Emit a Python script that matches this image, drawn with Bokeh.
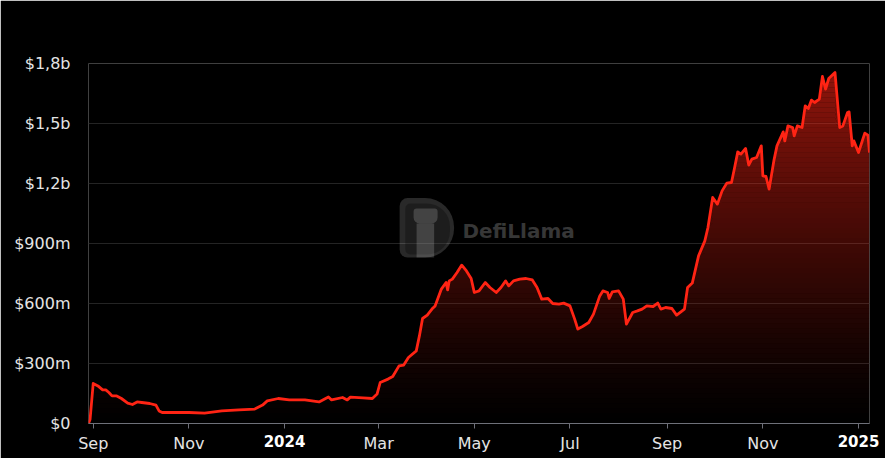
import numpy as np
import pandas as pd
from bokeh.plotting import figure
from bokeh.models import FixedTicker, Label, BoxAnnotation, Range1d, DatetimeAxis
from bokeh.embed import file_html
from bokeh.resources import INLINE

# ---------------- data ----------------
START_DATE = "2023-09-01"
day_offsets = [-3, -2, 0, 3, 6, 8, 10, 12, 15, 18, 22, 25, 28, 31, 36, 40, 42, 44, 50, 61,
               71, 82, 93, 103, 108, 111, 118, 125, 135, 144, 150, 152, 159, 162, 164, 172,
               178, 181, 183, 188, 191, 195, 198, 201, 206, 208, 210, 213, 216, 218, 220,
               222, 225, 226, 227, 229, 232, 235, 238, 241, 243, 246, 250, 253, 257, 260,
               263, 265, 268, 272, 276, 280, 283, 286, 290, 293, 297, 300, 304, 307, 309,
               312, 316, 319, 323, 325, 328, 329, 331, 335, 338, 340, 344, 347, 350, 353,
               357, 360, 362, 365, 369, 372, 377, 379, 382, 386, 390, 392, 395, 398, 401,
               404, 407, 409, 411, 413, 416, 418, 420, 423, 426, 427, 429, 431, 434, 436,
               440, 441, 443, 446, 447, 449, 452, 454, 456, 458, 460, 463, 465, 467, 469,
               473, 476, 478, 481, 482, 484, 485, 488, 492, 494, 495]
tvl_musd = [0, 20, 200, 188, 168, 168, 155, 138, 138, 125, 102, 95, 108, 105, 100, 92, 63, 55, 55, 55,
            52, 63, 68, 72, 92, 113, 125, 118, 118, 108, 133, 118, 130, 118, 132, 128,
            125, 147, 205, 222, 235, 288, 292, 330, 363, 438, 525, 542, 572, 588, 630,
            672, 705, 668, 713, 722, 755, 792, 763, 725, 655, 663, 705, 680, 655, 680,
            713, 688, 713, 722, 725, 718, 680, 622, 625, 600, 597, 602, 588, 522, 472,
            485, 505, 547, 638, 663, 655, 625, 658, 663, 622, 497, 555, 563, 572, 588,
            585, 602, 572, 580, 575, 542, 572, 680, 702, 838, 913, 980, 1130, 1097, 1163,
            1202, 1205, 1280, 1358, 1347, 1375, 1292, 1322, 1330, 1388, 1238, 1235, 1172, 1313, 1388,
            1458, 1413, 1488, 1480, 1438, 1488, 1480, 1588, 1575, 1617, 1605, 1622, 1735, 1672, 1725,
            1755, 1480, 1488, 1555, 1558, 1388, 1413, 1355, 1452, 1442, 1355]

y_ticks = [0, 300, 600, 900, 1200, 1500, 1800]
y_tick_labels = ["$0", "$300m", "$600m", "$900m", "$1,2b", "$1,5b", "$1,8b"]
x_tick_dates = ["2023-09-01", "2023-11-01", "2024-01-01", "2024-03-01", "2024-05-01",
                "2024-07-01", "2024-09-01", "2024-11-01", "2025-01-01"]
x_tick_labels = ["Sep", "Nov", "2024", "Mar", "May", "Jul", "Sep", "Nov", "2025"]

# ---------------- styling ----------------
LINE = "#ff2414"
FONT = "DejaVu Sans"
FS = "16px"


def ms(ts):
    return pd.Timestamp(ts).value / 1e6


def wm_x(day):
    # watermark horizontal position, as days after START_DATE
    return ms(pd.Timestamp(START_DATE) + pd.Timedelta(days=day))


dates = pd.Timestamp(START_DATE) + pd.to_timedelta(day_offsets, unit="D")
vals = np.array(tvl_musd, dtype=float)

p = figure(width=885, height=458, x_axis_type="datetime",
           output_backend="svg", toolbar_location=None,
           x_range=Range1d(dates[0], dates[-1]), y_range=Range1d(0, 1800),
           min_border_left=88, min_border_right=16, min_border_top=63, min_border_bottom=35,
           background_fill_color="black", border_fill_color="black",
           outline_line_color=None)

# ---- watermark (DefiLlama logo + text) ----
p.add_layout(BoxAnnotation(left=wm_x(195.4), right=wm_x(230.1), top=1127, bottom=830,
                           fill_color="#ffffff", fill_alpha=0.16, line_color=None,
                           border_radius=(8, 29, 29, 8), level="underlay"))
p.add_layout(BoxAnnotation(left=wm_x(199.0), right=wm_x(227.5), top=1100, bottom=845,
                           fill_color="#000000", fill_alpha=0.28, line_color=None,
                           border_radius=(5, 23, 23, 5), level="underlay"))
p.add_layout(BoxAnnotation(left=wm_x(206.2), right=wm_x(217.4), top=1000, bottom=830,
                           fill_color="#ffffff", fill_alpha=0.17, line_color=None,
                           level="underlay"))
p.add_layout(BoxAnnotation(left=wm_x(204.3), right=wm_x(219.6), top=1075, bottom=1000,
                           fill_color="#ffffff", fill_alpha=0.17, line_color=None,
                           border_radius=(3, 3, 6, 6), level="underlay"))
p.add_layout(Label(x=wm_x(235.4), y=965, text="DefiLlama",
                   text_font="DejaVu Sans", text_font_style="bold", text_font_size="20px",
                   text_color="#ffffff", text_alpha=0.22, text_baseline="middle",
                   text_align="left", level="underlay"))

# ---- gradient area via stacked bands ----
vmax = vals.max()
N = 70
alpha_top = 0.56
for k in range(N):
    lo = vmax * k / N
    hi = vmax * (k + 1) / N
    y1 = np.minimum(vals, lo)
    y2 = np.minimum(vals, hi)
    if np.any(y2 > y1):
        p.varea(x=dates, y1=y1, y2=y2, fill_color=LINE,
                fill_alpha=alpha_top * ((k + 0.5) / N) ** 1.2)

p.line(dates, vals, line_color=LINE, line_width=2.8, line_join="round")

# grid
p.xgrid.visible = False
p.ygrid.grid_line_color = "#242424"
p.ygrid.grid_line_width = 1

# y axis
p.yaxis.ticker = FixedTicker(ticks=y_ticks)
p.yaxis.major_label_overrides = dict(zip(y_ticks, y_tick_labels))
p.yaxis.axis_line_color = None
p.yaxis.major_tick_line_color = None
p.yaxis.minor_tick_line_color = None
p.yaxis.major_label_text_color = "#e4e4e4"
p.yaxis.major_label_text_font = FONT
p.yaxis.major_label_text_font_size = FS
p.yaxis.major_label_standoff = 12

# x axis (months + all tick marks)
x_ticks_ms = [ms(d) for d in x_tick_dates]
p.xaxis.ticker = FixedTicker(ticks=x_ticks_ms)
p.xaxis.major_label_overrides = {t: ("" if lab.isdigit() else lab)
                                 for t, lab in zip(x_ticks_ms, x_tick_labels)}
p.xaxis.axis_line_color = "#6e7079"
p.xaxis.major_tick_line_color = "#6e7079"
p.xaxis.major_tick_out = 5
p.xaxis.major_tick_in = 0
p.xaxis.minor_tick_line_color = None
p.xaxis.major_label_text_color = "#e4e4e4"
p.xaxis.major_label_text_font = FONT
p.xaxis.major_label_text_font_size = FS
p.xaxis.major_label_standoff = 5

# second axis for bold year labels, pulled up onto the month-label row
year_ticks = [t for t, lab in zip(x_ticks_ms, x_tick_labels) if lab.isdigit()]
year_axis = DatetimeAxis(ticker=FixedTicker(ticks=year_ticks),
                         major_label_overrides={t: lab for t, lab in zip(x_ticks_ms, x_tick_labels)
                                                if lab.isdigit()},
                         axis_line_color=None, major_tick_line_color=None,
                         minor_tick_line_color=None, major_tick_out=0, major_tick_in=0,
                         major_label_text_color="#ffffff", major_label_text_font=FONT,
                         major_label_text_font_size="15px", major_label_text_font_style="bold",
                         major_label_standoff=-21)
p.add_layout(year_axis, "below")

open("out.html", "w").write(file_html(p, INLINE))
